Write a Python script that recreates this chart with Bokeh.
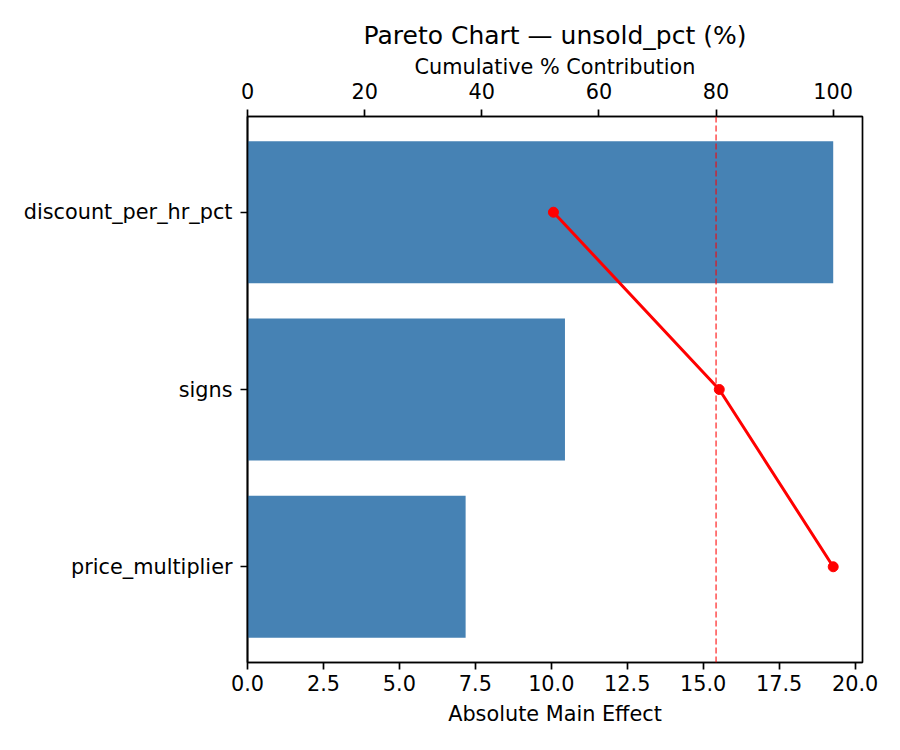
from bokeh.plotting import figure
from bokeh.models import (ColumnDataSource, Range1d, FactorRange, LinearAxis,
                          FixedTicker, NumeralTickFormatter, Span)
from bokeh.embed import file_html
from bokeh.resources import INLINE
import numpy as np

# main effects, largest first
factors = ["discount_per_hr_pct", "signs", "price_multiplier"]
effects = [19.28, 10.45, 7.18]
threshold = 80  # cumulative % reference line

cum_pct = list(np.cumsum(effects) / np.sum(effects) * 100)

bottom_ticks = [0, 2.5, 5, 7.5, 10, 12.5, 15, 17.5, 20]
top_ticks = [0, 20, 40, 60, 80, 100]

FONT = "DejaVu Sans"

p = figure(
    width=884, height=734,
    y_range=FactorRange(factors=factors[::-1], range_padding=0.04,
                        range_padding_units="absolute"),
    x_range=Range1d(0, max(effects) * 1.05),
    output_backend="svg", toolbar_location=None,
    title="Pareto Chart \u2014 unsold_pct (%)",
    x_axis_label="Absolute Main Effect",
    min_border_left=247, min_border_right=22,
    min_border_top=116, min_border_bottom=72,
)
p.extra_x_ranges = {"cum": Range1d(0, 105)}

src = ColumnDataSource(data=dict(factor=factors, effect=effects, cum=cum_pct))

p.hbar(y="factor", right="effect", left=0, height=0.8, source=src,
       fill_color="#4682b4", line_color=None)

p.line(x="cum", y="factor", source=src, x_range_name="cum",
       line_color="red", line_width=3)
p.scatter(x="cum", y="factor", source=src, x_range_name="cum",
          size=10, fill_color="red", line_color="red")

p.add_layout(Span(location=threshold, dimension="height", x_range_name="cum",
                  line_color="red", line_alpha=0.7, line_width=1.5,
                  line_dash="6 3"))

top_axis = LinearAxis(x_range_name="cum", axis_label="Cumulative % Contribution")
p.add_layout(top_axis, "above")

p.xaxis[0].ticker = FixedTicker(ticks=top_ticks)
p.xaxis[1].ticker = FixedTicker(ticks=bottom_ticks)
p.xaxis[1].formatter = NumeralTickFormatter(format="0.0")

for ax in p.axis:
    ax.major_label_text_font = FONT
    ax.major_label_text_font_size = "20.8px"
    ax.major_label_text_color = "black"
    ax.axis_label_text_font = FONT
    ax.axis_label_text_font_size = "20.8px"
    ax.axis_label_text_font_style = "normal"
    ax.axis_label_text_color = "black"
    ax.axis_line_color = "black"
    ax.axis_line_width = 1.7
    ax.major_tick_line_color = "black"
    ax.major_tick_line_width = 1.7
    ax.major_tick_out = 7
    ax.major_tick_in = 0
    ax.minor_tick_line_color = None
    ax.major_label_standoff = 5
    ax.axis_label_standoff = 6

p.yaxis.major_label_standoff = 8
top_axis.major_label_standoff = 11
top_axis.axis_label_standoff = 1
p.xaxis[1].axis_label_standoff = 8

p.xgrid.grid_line_color = None
p.ygrid.grid_line_color = None
p.outline_line_color = "black"
p.outline_line_width = 1.7

p.title.text_font = FONT
p.title.text_font_size = "25px"
p.title.text_font_style = "normal"
p.title.text_color = "black"
p.title.align = "center"
p.title.standoff = 4

open("out.html", "w").write(file_html(p, INLINE))
